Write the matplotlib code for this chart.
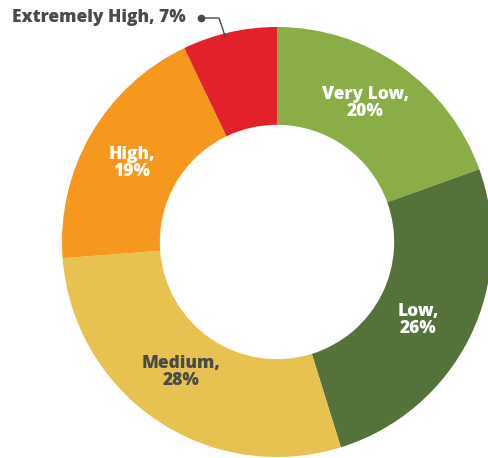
import matplotlib.pyplot as plt

labels = ['Very Low', 'Low', 'Medium', 'High', 'Extremely High']
label_pct = [20, 26, 28, 19, 7]
# slice sizes as measured on the chart (labels are rounded)
shares = [19.5, 25.7, 28.6, 19.1, 7.1]
colors = ['#8aad47', '#55723b', '#e8c250', '#f7981e', '#e3212b']
text_colors = ['white', 'white', '#4a4a4a', 'white', '#4a4a4a']

plt.rcParams['font.family'] = ['Open Sans', 'DejaVu Sans']

fig = plt.figure(figsize=(4.89, 4.58), dpi=100)
ax = fig.add_axes([0, 0, 1, 1])

cx, cy, r = 277, 216, 215
wedges, _ = ax.pie(shares, colors=colors, startangle=90, counterclock=False,
                   center=(cx, cy), radius=r,
                   wedgeprops=dict(width=r * 0.455, linewidth=0))
ax.set_xlim(0, 489)
ax.set_ylim(0, 458)
ax.set_aspect('equal')
ax.axis('off')

# label positions inside the ring (pixel coords)
label_pos = {0: (365, 355), 1: (418, 138), 2: (181, 86), 3: (132, 295)}
for i, (x, y) in label_pos.items():
    ax.text(x, y, f'{labels[i]},\n{label_pct[i]}%', ha='center', va='center',
            color=text_colors[i], fontsize=12.5, fontweight=800,
            linespacing=1.02)

# outside label for the small slice
ax.text(186, 440, f'{labels[4]}, {label_pct[4]}%', ha='right', va='center',
        color='#4a4a4a', fontsize=12.5, fontweight=800)
ax.plot([201, 219, 225], [440, 440, 422], color='#4a4a4a', linewidth=1)
ax.plot([201], [440], marker='o', markersize=4.5, color='#4a4a4a')

fig.savefig('out.png', dpi=100)
